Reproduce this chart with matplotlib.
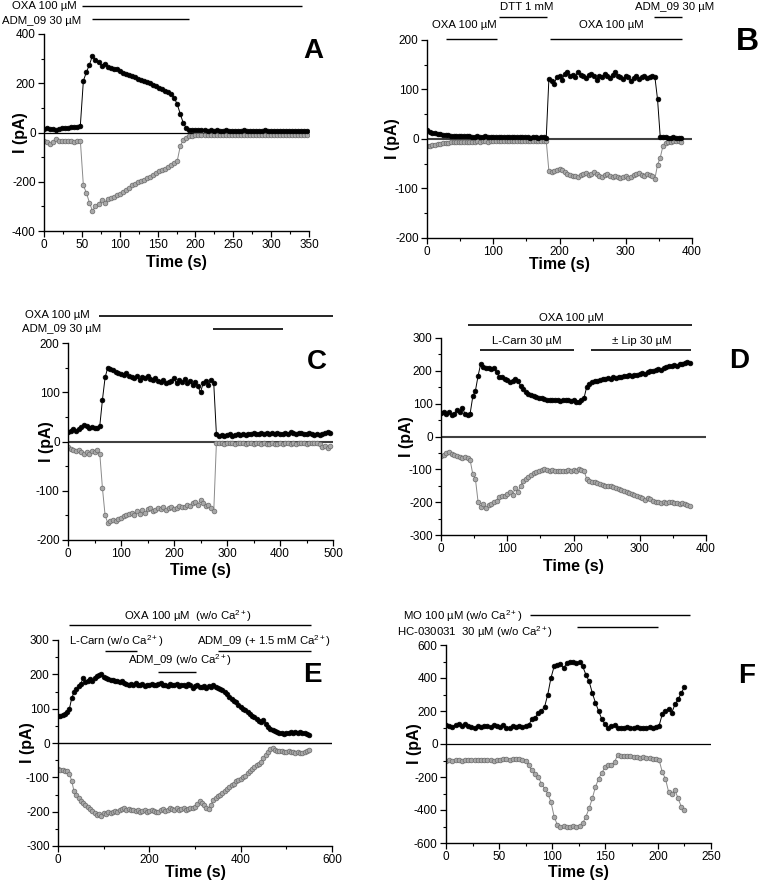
import matplotlib

matplotlib.use("Agg")

import matplotlib.pyplot as plt
import numpy as np
from matplotlib.ticker import MultipleLocator

plt.rcParams["font.family"] = ["Liberation Sans", "DejaVu Sans"]
plt.rcParams["mathtext.fontset"] = "custom"
plt.rcParams["mathtext.rm"] = "Liberation Sans"
plt.rcParams["mathtext.it"] = "Liberation Sans:italic"
plt.rcParams["mathtext.bf"] = "Liberation Sans:bold"
plt.rcParams["axes.unicode_minus"] = False

# ---------------------------------------------------------------------------
# Data (pA), sampled at a fixed interval starting at t = 0 s
# ---------------------------------------------------------------------------

A_DT = 4
A_BLACK = [
    15, 17, 16, 14, 10, 14, 18, 20, 20, 21, 22, 24, 28,
    210, 245, 275, 312, 295, 285, 272, 280, 268, 262, 258, 256, 250, 240,
    238, 232, 228, 224, 218, 214, 210, 205, 200, 194, 188, 180, 176, 170,
    165, 158, 140, 115, 75, 38, 18, 12, 12, 11,
    10, 9, 10, 8, 9, 8, 9, 8, 8, 9, 7, 8, 8, 7, 8, 9, 8, 7, 8, 8, 7, 8, 9,
    8, 7, 8, 8, 7, 8, 8, 7, 8, 8, 7, 8, 8, 7,
]
A_GREY = [
    -35, -40, -45, -38, -28, -33, -36, -36, -35, -35, -37, -35, -33,
    -215, -245, -285, -318, -300, -290, -275, -285, -270, -268, -262, -255,
    -250, -242, -232, -225, -215, -208, -202, -198, -192, -185, -180, -172,
    -165, -158, -152, -148, -142, -132, -125, -115, -55, -30, -22, -16, -14,
    -12,
    -12, -11, -12, -10, -11, -12, -10, -11, -10, -12, -11, -10, -11, -12,
    -10, -11, -10, -11, -12, -10, -11, -10, -11, -12, -10, -11, -10, -11,
    -12, -10, -11, -10, -11, -10, -12, -11, -10,
]

B_DT = 4
B_BLACK = [
    18, 14, 12, 12, 11, 10, 9, 8, 8, 7, 7, 7, 6, 6, 6, 7, 6, 5, 5, 6,
    5, 5, 6, 5, 4, 5, 5, 4, 5, 4, 5, 4, 4, 5, 4, 4, 5, 4, 4, 3, 4, 4, 3, 4,
    4, 3,
    122, 118, 112, 125, 128, 120, 132, 135, 128, 130, 126, 136, 130, 128,
    124, 130, 132, 127, 120, 128, 126, 131, 128, 124, 130, 135, 128, 126,
    122, 127, 126, 118, 124, 127, 122, 125, 128, 124, 126, 128, 125,
    80, 5, 4, 4, 3, 3, 4, 3, 3, 3,
]
B_GREY = [
    -15, -14, -13, -12, -11, -10, -9, -8, -8, -7, -7, -7, -7, -6, -6, -6,
    -6, -6, -6, -5, -6, -5, -5, -6, -5, -5, -5, -5, -5, -5, -4, -5, -4, -5,
    -4, -4, -4, -5, -4, -4, -4, -4, -4, -4, -4, -4,
    -65, -66, -64, -62, -60, -63, -66, -70, -72, -75, -74, -76, -73, -70,
    -68, -72, -70, -67, -71, -74, -76, -72, -70, -74, -76, -75, -77, -78,
    -76, -74, -79, -77, -73, -70, -68, -72, -74, -70, -73, -75, -80,
    -52, -38, -15, -8, -6, -6, -5, -5, -5, -6,
]

C_DT = 5
C_BLACK = [
    20, 22, 25, 22, 26, 30, 33, 32, 28, 30, 27, 28, 32,
    85, 130, 150, 148, 146, 142, 140, 138, 135, 140, 133, 130, 128, 132,
    125, 130, 128, 134, 126, 124, 128, 122, 120, 125, 118, 120, 122, 128,
    118, 124, 120, 126, 118, 122, 115, 120, 112, 100, 118, 122, 115, 125,
    118,
    15, 12, 14, 12, 13, 15, 12, 14, 16, 14, 15, 13, 16, 15, 17, 15, 16, 18,
    16, 17, 15, 18, 16, 17, 15, 16, 18, 16, 20, 17, 16, 18, 17, 16, 15, 17,
    16, 14, 15, 13, 15, 17, 20, 18,
]
C_GREY = [
    -12, -15, -18, -20, -18, -22, -25, -22, -26, -20, -22, -18, -25,
    -95, -150, -165, -162, -160, -162, -158, -155, -152, -150, -148, -145,
    -150, -142, -148, -140, -145, -138, -135, -142, -140, -136, -138, -134,
    -140, -136, -132, -138, -135, -130, -134, -132, -128, -130, -125, -122,
    -128, -118, -125, -130, -128, -135, -142,
    -3, -4, -3, -5, -4, -3, -4, -5, -3, -4, -4, -5, -3, -4, -5, -4, -3, -5,
    -4, -6, -5, -4, -5, -6, -4, -5, -4, -3, -5, -4, -5, -4, -3, -4, -5, -4,
    -3, -4, -4, -5, -12, -10, -13, -9,
]

D_DT = 4
D_BLACK = [
    72, 75, 70, 76, 64, 70, 80, 74, 88, 70, 66, 70,
    122, 140, 185, 222,
    212, 210, 208, 206, 208, 196, 182, 180, 176, 172, 166, 170, 176, 168,
    155, 145, 135, 128, 125, 124, 120, 118, 116, 114, 112, 112, 110, 112,
    110, 108, 110, 112, 110, 108, 110, 106, 105, 110, 118,
    152, 160, 165, 168, 170, 172, 175, 174, 178, 176, 180, 178, 182, 180,
    184, 183, 186, 185, 188, 186, 190, 192, 190, 195, 198, 200, 202, 205,
    204, 208, 212, 215, 214, 218, 216, 220, 222, 224, 228, 224,
]
D_GREY = [
    -60, -56, -50, -48, -52, -55, -58, -62, -64, -62, -66, -72,
    -115, -130, -200, -215,
    -205, -218, -210, -205, -200, -195, -185, -180, -182, -175, -170, -178,
    -158, -170, -150, -135, -128, -122, -118, -112, -108, -105, -102, -100,
    -102, -104, -103, -105, -104, -106, -104, -105, -103, -104, -102, -105,
    -100, -103, -104,
    -130, -136, -138, -140, -143, -146, -148, -150, -152, -152, -155, -158,
    -160, -163, -166, -168, -172, -175, -178, -182, -185, -188, -192, -186,
    -190, -195, -198, -200, -202, -200, -203, -201, -200, -203, -202, -205,
    -204, -207, -209, -212,
]

E_DT = 5
E_BLACK = [
    80, 80, 82, 85, 90, 100, 130, 148, 158, 165, 172,
    190, 178, 182, 185, 180, 190, 194, 198, 200, 192,
    188, 186, 183, 184, 180, 182, 178, 180, 176, 172, 170, 172, 168, 176,
    170, 168, 172, 166, 168, 170,
    172, 170, 168, 172, 175, 168, 170, 166, 172, 170, 168, 172, 166, 170,
    168, 165, 172, 168, 160, 165,
    168, 162, 164, 166, 160, 165, 162, 168, 164, 160, 158, 155, 150, 142,
    135, 128, 122, 118, 110, 105,
    100, 95, 90, 85, 80, 75, 70, 65, 60, 68, 55, 48, 42, 38, 35, 32, 30,
    28, 27, 28,
    30, 32, 30, 33, 30, 32, 30, 28, 25, 22,
]
E_GREY = [
    -75, -78, -80, -82, -82, -90, -110, -140, -150, -160, -168,
    -175, -180, -185, -192, -198, -205, -210, -208, -212, -205,
    -208, -202, -205, -200, -198, -202, -196, -192, -190, -194, -192, -196,
    -194, -198, -196, -200, -198, -196, -200, -198,
    -196, -198, -200, -202, -196, -192, -198, -194, -190, -192, -195, -190,
    -194, -192, -190, -194, -192, -190, -188, -185,
    -178, -170, -175, -180, -188, -192, -180, -165, -160, -155, -150, -145,
    -140, -135, -128, -122, -118, -112, -108, -105,
    -100, -95, -88, -82, -75, -70, -65, -60, -55, -45, -35, -25, -18, -15,
    -20, -22, -24, -22, -25, -26,
    -24, -26, -25, -28, -26, -30, -28, -25, -22, -20,
]

F_DT = 3
F_BLACK = [
    115, 110, 105, 115, 120, 110, 120, 112, 105, 100, 110, 105, 108, 110,
    105, 115, 110, 105, 115, 100, 95, 110, 105, 110, 105,
    110, 115, 150, 160, 185, 200, 225, 300, 400, 470, 480, 485, 460, 490,
    495, 495, 490, 495, 470, 420, 380, 310, 250, 200, 150, 120,
    95, 110, 115, 100, 95, 100, 105, 95, 100, 105, 100, 95, 100, 105, 100,
    105, 110, 180, 200, 210, 190, 240, 270, 310, 345,
]
F_GREY = [
    -100, -98, -100, -97, -98, -100, -97, -96, -98, -95, -97, -98, -96,
    -95, -98, -100, -97, -95, -93, -92, -94, -92, -93, -92, -95,
    -100, -130, -160, -180, -200, -240, -270, -300, -350, -440, -490, -500,
    -498, -500, -500, -498, -500, -497, -480, -440, -390, -330, -260, -210,
    -175, -140,
    -130, -125, -110, -65, -75, -70, -75, -70, -80, -80, -85, -80, -85,
    -85, -90, -90, -95, -170, -210, -290, -300, -280, -330, -380, -400,
]

# drug application periods (s)
A_DRUGS = [("OXA 100 \u00b5M", 50, 341), ("ADM_09 30 \u00b5M", 64, 191)]
B_DRUGS = [
    ("OXA 100 \u00b5M", 29, 105),
    ("DTT 1 mM", 109, 181),
    ("OXA 100 \u00b5M", 185, 385),
    ("ADM_09 30 \u00b5M", 342, 385),
]
C_DRUGS = [("OXA 100 \u00b5M", 59, 500), ("ADM_09 30 \u00b5M", 273, 405)]
D_DRUGS = [
    ("OXA 100 \u00b5M", 41, 379),
    ("L-Carn 30 \u00b5M", 59, 200),
    ("\u00b1 Lip 30 \u00b5M", 226, 377),
]
E_DRUGS = [
    ("OXA 100 \u00b5M  (w/o Ca$^{2+}$)", 23, 555),
    ("L-Carn (w/o Ca$^{2+}$)", 102, 172),
    ("ADM_09 (w/o Ca$^{2+}$)", 219, 303),
    ("ADM_09 (+ 1.5 mM Ca$^{2+}$)", 350, 555),
]
F_DRUGS = [
    ("MO 100 \u00b5M (w/o Ca$^{2+}$)", 79, 230),
    ("HC-030031  30 \u00b5M (w/o Ca$^{2+}$)", 124, 200),
]

W, H = 759, 883


def make_axes(fig, px):
    """
    Add axes from a pixel box (left, top, right, bottom).
    """

    left, top, right, bottom = px

    return fig.add_axes(
        [left / W, 1 - bottom / H, (right - left) / W, (bottom - top) / H]
    )


def panel(ax, dt, black, grey, xlim, ylim, xstep, ystep, zero_color, zero_lw):
    """
    Draw one current trace pair.
    """

    tb = dt * np.arange(len(black))
    tg = dt * np.arange(len(grey))

    ax.axhline(0, color=zero_color, lw=zero_lw, zorder=1)

    ax.plot(
        tg,
        grey,
        color="#8a8a8a",
        lw=0.7,
        marker="o",
        ms=3.4,
        mfc="#a8a8a8",
        mec="#6a6a6a",
        mew=0.5,
        zorder=2,
    )

    ax.plot(
        tb,
        black,
        color="black",
        lw=0.7,
        marker="o",
        ms=3.4,
        mfc="black",
        mec="black",
        mew=0.5,
        zorder=3,
    )

    ax.set_xlim(*xlim)
    ax.set_ylim(*ylim)

    ax.xaxis.set_major_locator(MultipleLocator(xstep))
    ax.xaxis.set_minor_locator(MultipleLocator(xstep / 2))
    ax.yaxis.set_major_locator(MultipleLocator(ystep))
    ax.yaxis.set_minor_locator(MultipleLocator(ystep / 2))

    for side in ("top", "right"):
        ax.spines[side].set_visible(False)

    for side in ("left", "bottom"):
        ax.spines[side].set_linewidth(1.0)

    ax.tick_params(which="major", direction="out", length=4, width=0.9,
                   labelsize=8.5, pad=2)
    ax.tick_params(which="minor", direction="out", length=2.2, width=0.8)

    ax.set_xlabel("Time (s)", fontsize=11.5, fontweight="bold")
    ax.set_ylabel("I (pA)", fontsize=11.5, fontweight="bold")


def place_labels(ax, px, ylab_off, xlab_off):
    """
    Put axis titles at fixed pixel offsets from the axes edges.
    """

    left, top, right, bottom = px

    ax.yaxis.label.set_va("center")
    ax.yaxis.set_label_coords(-ylab_off / (right - left), 0.5)

    ax.xaxis.label.set_va("center")
    ax.xaxis.set_label_coords(0.5, -xlab_off / (bottom - top))


def bars(ax, drugs, bar_y, text_pos, lw=1.0):
    """
    Draw drug application bars with their labels above the axes.
    """

    for (label, start, end), y, (tx, ty, ha) in zip(drugs, bar_y, text_pos):
        ax.plot([start, end], [y, y], color="black", lw=lw,
                clip_on=False, solid_capstyle="butt")
        ax.text(tx, ty, label, ha=ha, va="center", fontsize=8.2,
                clip_on=False)


fig = plt.figure(figsize=(W / 100, H / 100), dpi=100)
fig.patch.set_facecolor("white")

# A
box = (44, 34, 309, 231)
ax = make_axes(fig, box)
panel(ax, A_DT, A_BLACK, A_GREY, (0, 350), (-400, 400), 50, 200, "black", 0.9)
place_labels(ax, box, 24, 32)
bars(ax, A_DRUGS, [514, 461], [(-42, 515, "left"), (-55, 454, "left")])

# B
box = (427, 40, 692, 238)
ax = make_axes(fig, box)
panel(ax, B_DT, B_BLACK, B_GREY, (0, 400), (-200, 200), 100, 100, "#404040", 1.5)
place_labels(ax, box, 35, 27)
bars(
    ax,
    B_DRUGS,
    [202, 246, 202, 246],
    [(57, 230, "center"), (151, 267, "center"),
     (278, 230, "center"), (373, 267, "center")],
)

# C
box = (68, 343, 333, 540)
ax = make_axes(fig, box)
panel(ax, C_DT, C_BLACK, C_GREY, (0, 500), (-200, 200), 100, 100, "#404040", 1.5)
place_labels(ax, box, 22, 31)
bars(ax, C_DRUGS, [254, 229], [(-82, 257, "left"), (-87, 228, "left")], lw=1.2)

# D
box = (441, 338, 706, 535)
ax = make_axes(fig, box)
panel(ax, D_DT, D_BLACK, D_GREY, (0, 400), (-300, 300), 100, 100, "#404040", 1.5)
place_labels(ax, box, 34, 31)
bars(
    ax,
    D_DRUGS,
    [339, 264, 264],
    [(197, 361, "center"), (129, 290, "center"), (303, 290, "center")],
    lw=1.2,
)

# E
box = (58, 640, 332, 846)
ax = make_axes(fig, box)
panel(ax, E_DT, E_BLACK, E_GREY, (0, 600), (-300, 300), 200, 100, "black", 1.0)
place_labels(ax, box, 30, 27)
bars(
    ax,
    E_DRUGS,
    [343, 269, 208, 269],
    [(285, 369, "center"), (128, 296, "center"),
     (266, 240, "center"), (450, 296, "center")],
)

# F
box = (446, 645, 711, 843)
ax = make_axes(fig, box)
panel(ax, F_DT, F_BLACK, F_GREY, (0, 250), (-600, 600), 50, 200, "black", 0.9)
place_labels(ax, box, 32, 29)
bars(ax, F_DRUGS, [784, 707], [(-41, 776, "left"), (-46.5, 681, "left")])

# panel letters
letters = [("A", 313, 51, 20), ("B", 747, 42, 23), ("C", 317, 362, 20),
           ("D", 739, 361, 20), ("E", 312, 675, 20), ("F", 747, 676, 20)]
for letter, x, y, size in letters:
    fig.text(x / W, 1 - y / H, letter, ha="center", va="center",
             fontsize=size, fontweight="bold")

fig.savefig("out.png", dpi=100)
plt.close(fig)
